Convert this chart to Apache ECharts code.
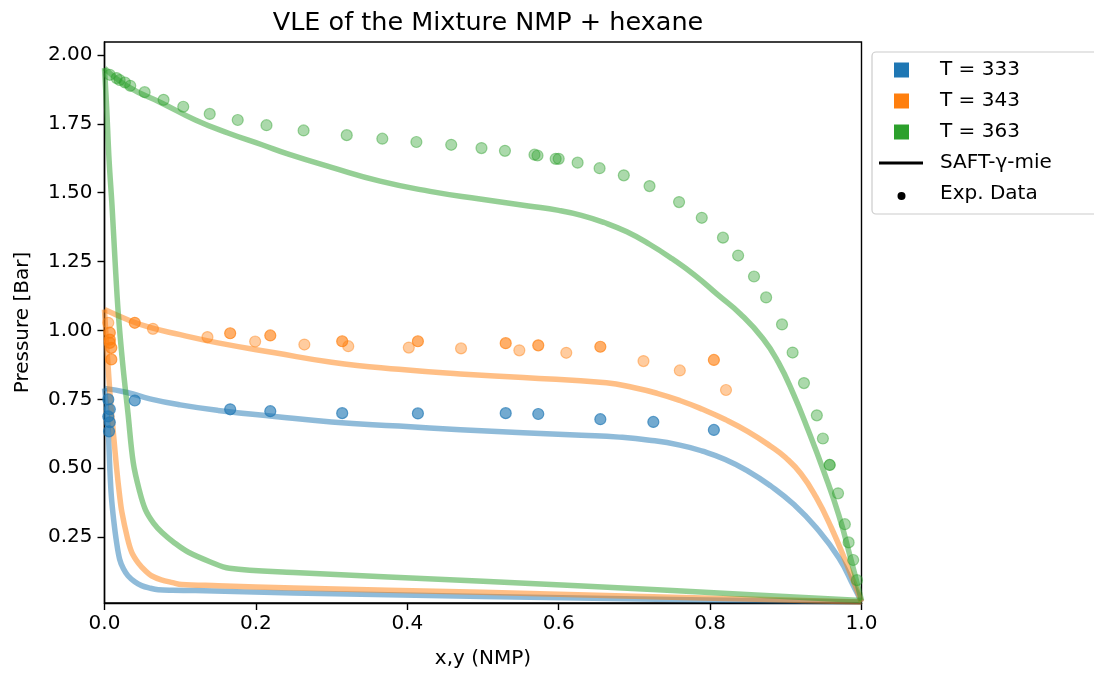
<!DOCTYPE html>
<html>
<head>
<meta charset="utf-8">
<script src="https://cdn.jsdelivr.net/npm/echarts@6/dist/echarts.min.js"></script>
<style>
html,body{margin:0;padding:0;background:#fff;}
#chart{width:1094px;height:674px;}
</style>
</head>
<body>
<div id="chart"></div>
<script>
// ---------- data ----------
const titleText = 'VLE of the Mixture NMP + hexane';
const xName = 'x,y (NMP)';
const yName = 'Pressure [Bar]';
const xTicks = [0.0, 0.2, 0.4, 0.6, 0.8, 1.0];
const yTicks = [0.25, 0.50, 0.75, 1.00, 1.25, 1.50, 1.75, 2.00];
const temperatures = ['T = 333', 'T = 343', 'T = 363'];
const modelName = 'SAFT-γ-mie';
const expName = 'Exp. Data';

// SAFT-gamma-Mie bubble (upper) and dew (lower) curves
const saft333Bubble = [[0,0.79],[0.03,0.775],[0.06,0.752],[0.10,0.73],[0.15,0.71],[0.225,0.688],[0.30,0.668],[0.389,0.653],[0.47,0.64],[0.553,0.629],[0.63,0.62],[0.68,0.613],[0.72,0.602],[0.76,0.584],[0.79,0.562],[0.82,0.532],[0.85,0.49],[0.88,0.436],[0.91,0.37],[0.94,0.285],[0.97,0.175],[0.99,0.07],[1,0.015]];
const saft333Dew = [[0,0.79],[0.002,0.74],[0.004,0.68],[0.005,0.64],[0.007,0.50],[0.009,0.40],[0.012,0.315],[0.016,0.23],[0.020,0.17],[0.025,0.135],[0.031,0.11],[0.040,0.088],[0.049,0.074],[0.060,0.065],[0.071,0.059],[0.090,0.057],[0.12,0.056],[0.25,0.047],[0.5,0.035],[0.75,0.024],[1,0.015]];
const saft343Bubble = [[0,1.076],[0.03,1.04],[0.06,1.011],[0.10,0.985],[0.15,0.955],[0.225,0.919],[0.30,0.885],[0.389,0.859],[0.47,0.842],[0.553,0.829],[0.663,0.81],[0.70,0.792],[0.73,0.772],[0.76,0.746],[0.79,0.714],[0.82,0.677],[0.85,0.633],[0.88,0.58],[0.90,0.538],[0.92,0.48],[0.94,0.395],[0.96,0.285],[0.98,0.155],[1,0.015]];
const saft343Dew = [[0,1.076],[0.002,0.98],[0.004,0.90],[0.006,0.82],[0.008,0.74],[0.010,0.68],[0.012,0.62],[0.016,0.50],[0.020,0.40],[0.023,0.34],[0.030,0.25],[0.036,0.195],[0.045,0.155],[0.055,0.125],[0.062,0.11],[0.075,0.095],[0.090,0.085],[0.102,0.078],[0.15,0.074],[0.25,0.065],[0.5,0.05],[0.75,0.032],[1,0.015]];
const saft363Bubble = [[0,1.952],[0.031,1.885],[0.076,1.825],[0.12,1.764],[0.164,1.716],[0.208,1.674],[0.243,1.64],[0.30,1.592],[0.364,1.542],[0.43,1.505],[0.496,1.477],[0.56,1.452],[0.60,1.436],[0.63,1.418],[0.66,1.392],[0.69,1.358],[0.72,1.313],[0.75,1.26],[0.78,1.20],[0.81,1.13],[0.84,1.06],[0.87,0.97],[0.89,0.885],[0.91,0.77],[0.93,0.635],[0.95,0.49],[0.97,0.33],[0.985,0.18],[1,0.02]];
const saft363Dew = [[0,1.952],[0.003,1.80],[0.006,1.62],[0.010,1.45],[0.014,1.25],[0.018,1.07],[0.024,0.88],[0.031,0.70],[0.038,0.52],[0.046,0.42],[0.054,0.35],[0.065,0.30],[0.076,0.267],[0.093,0.228],[0.111,0.195],[0.14,0.16],[0.165,0.137],[0.25,0.122],[0.5,0.09],[0.75,0.056],[1,0.02]];

// experimental data (darker / lighter marker groups)
const exp333Dark = [[0.005,0.750],[0.007,0.714],[0.005,0.688],[0.007,0.667],[0.006,0.634],[0.040,0.746],[0.166,0.714],[0.219,0.707],[0.314,0.700],[0.414,0.699],[0.530,0.700],[0.573,0.697],[0.655,0.678],[0.725,0.668],[0.805,0.639]];
const exp333Light = [];
const exp343Dark = [[0.007,0.992],[0.007,0.967],[0.007,0.955],[0.009,0.937],[0.009,0.895],[0.040,1.028],[0.166,0.990],[0.219,0.982],[0.314,0.961],[0.414,0.961],[0.530,0.954],[0.573,0.946],[0.655,0.941],[0.805,0.893]];
const exp343Light = [[0.005,1.028],[0.064,1.006],[0.136,0.976],[0.199,0.960],[0.264,0.949],[0.322,0.943],[0.402,0.938],[0.471,0.935],[0.548,0.928],[0.610,0.919],[0.712,0.889],[0.760,0.855],[0.821,0.784]];
const exp363Dark = [[0.958,0.512]];
const exp363Light = [[0.007,1.928],[0.016,1.916],[0.020,1.909],[0.027,1.900],[0.034,1.888],[0.053,1.865],[0.078,1.837],[0.104,1.812],[0.139,1.786],[0.176,1.764],[0.214,1.745],[0.263,1.726],[0.320,1.709],[0.367,1.696],[0.412,1.684],[0.458,1.674],[0.498,1.662],[0.529,1.652],[0.568,1.638],[0.572,1.635],[0.596,1.623],[0.600,1.623],[0.625,1.609],[0.654,1.589],[0.686,1.563],[0.720,1.524],[0.759,1.466],[0.789,1.409],[0.817,1.337],[0.837,1.272],[0.858,1.196],[0.874,1.120],[0.895,1.022],[0.909,0.920],[0.924,0.809],[0.941,0.692],[0.949,0.608],[0.969,0.409],[0.978,0.297],[0.983,0.231],[0.989,0.167],[0.994,0.094]];

// ---------- styling ----------
const FONT = 'DejaVu Sans';
const rgb = [[31,119,180],[255,127,14],[44,160,44]];
const rgba = (c,a) => `rgba(${c[0]},${c[1]},${c[2]},${a})`;

const groups = [
  {bubble: saft333Bubble, dew: saft333Dew, dark: exp333Dark, light: exp333Light},
  {bubble: saft343Bubble, dew: saft343Dew, dark: exp343Dark, light: exp343Light},
  {bubble: saft363Bubble, dew: saft363Dew, dark: exp363Dark, light: exp363Light}
];

const series = [];
groups.forEach((g, i) => {
  const c = rgb[i];
  series.push({
    type: 'line', data: g.bubble, showSymbol: false, smooth: 0.5,
    lineStyle: {color: rgba(c,0.5), width: 5.5, join: 'round'}, z: 2, silent: true
  });
  series.push({
    type: 'line', data: g.dew, showSymbol: false, smooth: 0.35,
    lineStyle: {color: rgba(c,0.5), width: 5.5, join: 'round'}, z: 2, silent: true
  });
});
groups.forEach((g, i) => {
  const c = rgb[i];
  series.push({
    type: 'scatter', data: g.light, symbol: 'circle', symbolSize: 11,
    itemStyle: {color: rgba(c,0.5), borderColor: rgba(c,0.55), borderWidth: 1.2},
    z: 3, silent: true
  });
  series.push({
    type: 'scatter', data: g.dark, symbol: 'circle', symbolSize: 11,
    itemStyle: {color: rgba(c,0.78), borderColor: rgba(c,0.85), borderWidth: 1.2},
    z: 4, silent: true
  });
});

// legend drawn as graphic
const LX = 872, LY = 52;
const legendEls = [
  {type: 'rect', shape: {x: LX, y: LY, width: 240, height: 162, r: 4},
   style: {fill: '#fff', stroke: '#cccccc', lineWidth: 1.2}, z: 10}
];
const rowY = [70, 101, 132, 163, 194];
temperatures.forEach((t, i) => {
  legendEls.push({type: 'rect', shape: {x: 894, y: rowY[i] - 7.5, width: 15, height: 15},
    style: {fill: rgba(rgb[i],1)}, z: 11});
  legendEls.push({type: 'text', x: 940, y: rowY[i],
    style: {text: t, font: `20px "${FONT}"`, fill: '#000', verticalAlign: 'middle'}, z: 11});
});
legendEls.push({type: 'line', shape: {x1: 879, y1: rowY[3], x2: 923, y2: rowY[3]},
  style: {stroke: '#000', lineWidth: 3}, z: 11});
legendEls.push({type: 'text', x: 940, y: rowY[3],
  style: {text: modelName, font: `20px "${FONT}"`, fill: '#000', verticalAlign: 'middle'}, z: 11});
legendEls.push({type: 'circle', shape: {cx: 901.5, cy: rowY[4] + 2, r: 4},
  style: {fill: '#000'}, z: 11});
legendEls.push({type: 'text', x: 940, y: rowY[4],
  style: {text: expName, font: `20px "${FONT}"`, fill: '#000', verticalAlign: 'middle'}, z: 11});

const chart = echarts.init(document.getElementById('chart'), null, {renderer: 'canvas'});
chart.setOption({
  animation: false,
  backgroundColor: '#fff',
  title: {
    text: titleText, left: 483, top: 5, textAlign: 'center',
    textStyle: {fontFamily: FONT, fontSize: 25.5, fontWeight: 'normal', color: '#000'}
  },
  grid: {left: 104.5, right: 232.5, top: 42, bottom: 70, show: true,
         borderColor: '#000', borderWidth: 1.4, backgroundColor: 'transparent'},
  xAxis: {
    type: 'value', min: 0, max: 1, interval: 0.2,
    name: xName, nameLocation: 'middle', nameGap: 46,
    nameTextStyle: {fontFamily: FONT, fontSize: 20, color: '#000'},
    axisLine: {show: true, onZero: false, lineStyle: {color: '#000', width: 1.4}},
    axisTick: {show: true, length: 7, lineStyle: {color: '#000', width: 1.4}},
    axisLabel: {fontFamily: FONT, fontSize: 20, color: '#000', margin: 11,
                formatter: v => v.toFixed(1)},
    splitLine: {show: false}
  },
  yAxis: {
    type: 'value', min: 0.011, max: 2.047,
    name: yName, nameLocation: 'middle', nameGap: 72, nameRotate: 90,
    nameTextStyle: {fontFamily: FONT, fontSize: 20, color: '#000'},
    axisLine: {show: true, onZero: false, lineStyle: {color: '#000', width: 1.4}},
    axisTick: {show: true, length: 7, customValues: yTicks, lineStyle: {color: '#000', width: 1.4}},
    axisLabel: {fontFamily: FONT, fontSize: 20, color: '#000', margin: 12,
                customValues: yTicks, formatter: v => v.toFixed(2)},
    splitLine: {show: false}
  },
  graphic: legendEls,
  series: series
});
</script>
</body>
</html>
